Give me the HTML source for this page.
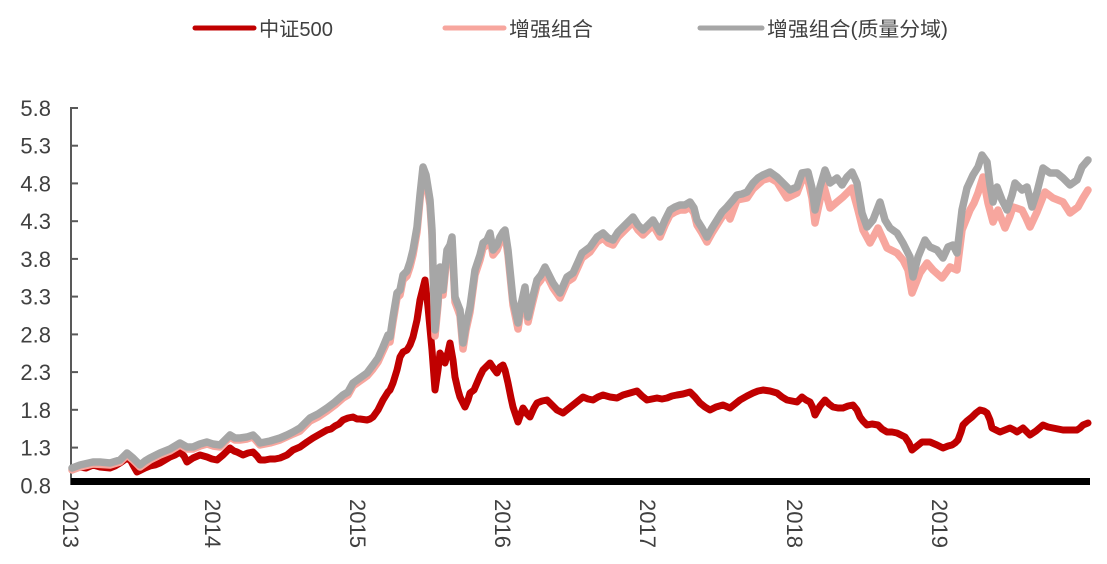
<!DOCTYPE html>
<html>
<head>
<meta charset="utf-8">
<style>
  html,body{margin:0;padding:0;background:#fff;}
  body{width:1107px;height:564px;overflow:hidden;}
  svg{display:block;}
  text{font-family:"Liberation Sans","Noto Sans CJK SC",sans-serif;fill:#404040;}
</style>
</head>
<body>
<svg width="1107" height="564" viewBox="0 0 1107 564" xmlns="http://www.w3.org/2000/svg">
  <rect x="0" y="0" width="1107" height="564" fill="#fff"/>

  <!-- Legend -->
  <line x1="195" y1="28" x2="254" y2="28" stroke="#C00000" stroke-width="5" stroke-linecap="round"/>
  <text x="259" y="36" font-size="20" textLength="74" lengthAdjust="spacingAndGlyphs">中证500</text>
  <line x1="445" y1="28" x2="504" y2="28" stroke="#F7A69E" stroke-width="5" stroke-linecap="round"/>
  <text x="509" y="36" font-size="20" textLength="84" lengthAdjust="spacingAndGlyphs">增强组合</text>
  <line x1="700" y1="28" x2="762" y2="28" stroke="#A6A6A6" stroke-width="5" stroke-linecap="round"/>
  <text x="767" y="36" font-size="20" textLength="181" lengthAdjust="spacingAndGlyphs">增强组合(质量分域)</text>

  <!-- Y axis -->
  <line x1="71" y1="107" x2="71" y2="485" stroke="#595959" stroke-width="2"/>
  <g stroke="#595959" stroke-width="2">
    <line x1="71" y1="108" x2="78" y2="108"/>
    <line x1="71" y1="145.7" x2="78" y2="145.7"/>
    <line x1="71" y1="183.4" x2="78" y2="183.4"/>
    <line x1="71" y1="221.2" x2="78" y2="221.2"/>
    <line x1="71" y1="258.9" x2="78" y2="258.9"/>
    <line x1="71" y1="296.6" x2="78" y2="296.6"/>
    <line x1="71" y1="334.4" x2="78" y2="334.4"/>
    <line x1="71" y1="372.1" x2="78" y2="372.1"/>
    <line x1="71" y1="409.8" x2="78" y2="409.8"/>
    <line x1="71" y1="447.6" x2="78" y2="447.6"/>
  </g>
  <g font-size="22" text-anchor="end">
    <text x="51" y="116">5.8</text>
    <text x="51" y="153.7">5.3</text>
    <text x="51" y="191.4">4.8</text>
    <text x="51" y="229.2">4.3</text>
    <text x="51" y="266.9">3.8</text>
    <text x="51" y="304.6">3.3</text>
    <text x="51" y="342.4">2.8</text>
    <text x="51" y="380.1">2.3</text>
    <text x="51" y="417.8">1.8</text>
    <text x="51" y="455.6">1.3</text>
    <text x="51" y="493.3">0.8</text>
  </g>

  <!-- Series: 中证500 -->
  <polyline fill="none" stroke="#C00000" stroke-width="7" stroke-linejoin="round" stroke-linecap="round" points="
72,470 80,467 86,468 93,465 100,467 110,468 115,466 120,463 127,458 131,461 133,465 137,472 141,470 145,468 150,466 155,465 160,463 165,460 170,457 175,455 180,452 184,456 187,462 190,460 193,458 200,455 207,457 212,459 217,460 223,455 230,448 234,451 237,452 243,455 248,453 253,452 257,456 260,460 265,460 270,459 275,459 280,458 287,455 293,450 300,447 307,442 313,438 320,434 327,430 331,429 335,426 339,424 343,420 348,418 353,417 357,419 360,419 367,420 370,419 373,417 378,410 383,400 388,392 390,390 393,383 397,370 400,357 403,352 407,350 410,345 413,337 417,320 420,300 423,288 425,280 428,307 432,350 435,390 438,370 440,353 443,358 445,363 448,352 450,343 453,360 455,377 458,390 460,397 465,407 468,400 470,393 474,390 477,383 480,376 483,370 487,366 490,363 494,369 497,373 500,367 503,365 505,370 508,383 511,398 513,407 518,422 523,408 527,414 530,417 534,408 537,403 542,401 547,400 552,405 557,410 563,413 568,409 573,405 578,401 583,397 588,399 593,400 598,397 603,395 610,397 617,398 623,395 630,393 637,391 642,396 647,400 652,399 657,398 662,399 667,398 672,396 677,395 683,394 690,392 695,397 700,403 705,407 710,410 716,407 723,405 730,408 735,404 740,400 747,396 753,393 758,391 763,390 770,391 777,393 782,397 787,400 792,401 797,402 802,397 806,400 810,402 813,408 815,415 820,406 825,400 829,404 833,407 838,408 843,408 848,406 853,405 857,410 860,417 863,421 867,425 872,424 878,425 882,429 887,432 892,432 897,433 901,435 905,437 909,443 912,450 917,446 922,442 926,442 930,442 937,445 943,448 948,446 952,445 955,443 958,440 961,432 963,425 967,421 972,417 976,413 980,410 984,411 987,413 990,420 992,428 996,430 1000,432 1005,430 1010,428 1014,430 1017,432 1020,430 1023,428 1027,432 1030,435 1036,431 1043,425 1048,427 1053,428 1058,429 1063,430 1070,430 1077,430 1080,428 1083,425 1088,423"/>

  <!-- Series: 增强组合 (pink) -->
  <polyline fill="none" stroke="#F7A69E" stroke-width="7.5" stroke-linejoin="round" stroke-linecap="round" points="
72,470 80,467 93,464 110,465 120,462 127,455 133,460 140,467 150,460 160,455 170,451 180,445 187,449 193,449 200,446 207,444 213,446 220,447 225,442 230,437 235,440 240,440 247,439 253,437 260,445 270,443 280,440 293,434 300,431 310,421 318,417 327,411 335,405 343,398 348,395 353,386 360,381 367,376 373,369 378,362 383,351 388,340 390,342 393,322 397,298 400,295 403,280 407,276 410,267 413,255 417,232 420,200 423,172 426,180 430,205 432,235 433,272 435,336 438,305 440,272 443,295 447,255 450,250 452,242 455,302 458,310 460,316 463,349 466,330 470,312 475,275 480,260 483,248 487,245 490,238 493,255 497,250 500,242 503,237 505,235 508,255 513,305 518,329 521,310 525,292 528,322 532,305 537,285 541,280 545,272 549,280 553,288 560,298 567,282 573,278 578,267 582,258 590,252 597,242 603,238 608,243 613,245 618,237 623,232 628,227 633,222 638,230 643,235 648,230 653,225 660,237 665,225 670,215 675,212 680,210 685,210 690,207 694,213 697,225 702,233 707,242 712,233 717,225 722,217 727,212 730,219 737,200 747,198 753,189 763,180 770,178 777,182 787,198 797,193 802,180 808,180 812,198 815,223 820,200 823,183 830,208 837,202 843,197 852,188 858,210 863,230 870,243 878,228 887,248 897,253 903,260 908,270 912,293 916,283 920,273 927,263 933,270 942,278 950,267 957,270 962,230 966,220 970,210 974,203 978,193 983,177 988,203 993,222 998,210 1005,228 1010,216 1013,207 1022,210 1026,218 1030,227 1037,212 1045,192 1053,198 1063,202 1070,213 1078,207 1083,198 1088,190"/>

  <!-- Series: 增强组合(质量分域) (gray) -->
  <polyline fill="none" stroke="#A6A6A6" stroke-width="7.5" stroke-linejoin="round" stroke-linecap="round" points="
72,468 80,465 93,462 100,462 110,463 120,460 127,453 133,458 140,465 145,461 150,458 160,453 170,449 180,443 187,447 193,447 200,444 207,442 213,444 220,445 225,440 230,435 235,438 240,438 247,437 253,435 257,439 260,443 270,441 280,438 287,435 293,432 300,428 305,423 310,418 318,414 327,408 335,402 343,395 348,392 353,383 360,378 367,373 373,365 378,358 383,347 388,335 390,337 393,317 397,293 400,290 403,275 407,271 410,262 413,250 417,227 420,195 423,167 426,175 430,200 432,230 433,267 435,330 438,300 440,267 443,290 447,250 450,245 452,237 455,297 458,305 460,310 463,343 466,325 470,307 475,270 480,255 483,243 487,240 490,233 493,250 497,245 500,237 503,232 505,230 508,250 513,300 518,323 521,305 525,287 528,317 532,300 537,280 541,275 545,267 549,275 553,283 560,293 567,277 573,273 578,262 582,253 590,247 597,237 603,233 608,238 613,240 618,232 623,227 628,222 633,217 638,225 643,230 648,225 653,220 660,232 665,220 670,210 675,207 680,205 685,205 690,202 694,208 697,220 702,228 707,237 712,228 717,220 722,212 727,207 733,200 737,195 742,194 747,192 753,183 758,178 763,175 770,172 777,177 783,183 790,190 797,187 802,173 808,172 812,188 815,210 820,187 825,170 830,183 837,178 842,185 847,177 852,172 857,183 862,213 867,227 873,220 880,202 885,220 890,228 897,233 903,243 910,257 913,277 918,257 925,240 930,247 937,250 943,258 948,247 953,245 957,253 962,210 967,188 973,175 978,167 982,155 987,162 990,185 993,202 997,187 1002,200 1007,210 1012,195 1015,183 1022,190 1027,187 1032,207 1037,192 1043,168 1050,173 1057,173 1063,178 1070,185 1077,180 1082,167 1088,160"/>

  <!-- X axis bar -->
  <rect x="71" y="478" width="1019" height="7" fill="#000"/>

  <!-- X labels (rotated) -->
  <g font-size="22">
    <text transform="translate(63,499) rotate(90)">2013</text>
    <text transform="translate(205,499) rotate(90)">2014</text>
    <text transform="translate(350,499) rotate(90)">2015</text>
    <text transform="translate(495,499) rotate(90)">2016</text>
    <text transform="translate(640,499) rotate(90)">2017</text>
    <text transform="translate(787,499) rotate(90)">2018</text>
    <text transform="translate(932,499) rotate(90)">2019</text>
  </g>
</svg>
</body>
</html>
